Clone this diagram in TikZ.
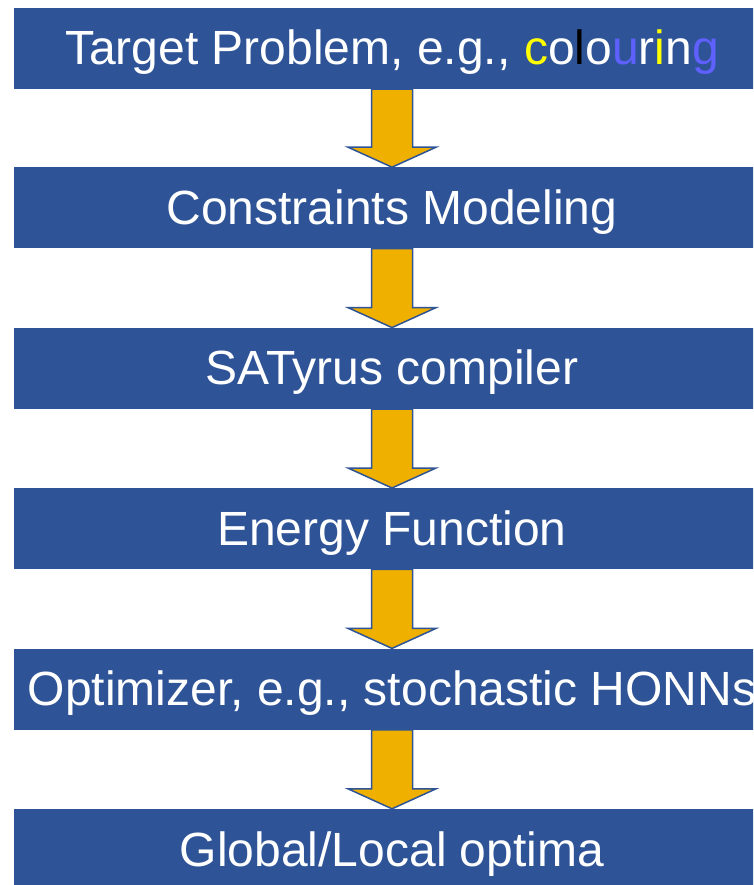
\documentclass[tikz,border=0pt]{standalone}
\usepackage{fontspec}
\setmainfont{Liberation Sans}
\usetikzlibrary{positioning,calc}
\definecolor{boxblue}{RGB}{46,84,151}
\definecolor{arrowgold}{RGB}{240,176,0}
\definecolor{letteryellow}{RGB}{255,255,0}
\definecolor{letterblue}{RGB}{96,96,255}
\tikzset{stage/.style={fill=boxblue,text=white,minimum width=756pt,minimum height=81pt,inner sep=0pt,
                       text height=40pt,text depth=7pt,font=\fontsize{48}{52}\selectfont},
         blockarrow/.style={fill=arrowgold,draw=boxblue,line width=1.5pt,line join=miter}
}

\begin{document}
\begin{tikzpicture}[x=1pt,y=1pt,yscale=-1]
\useasboundingbox (0,0) rectangle (753,885);
\clip (0,0) rectangle (753,885);

% stages
\node[stage] (target) at (392,48.5) {Target Problem, e.g., {\color{letteryellow}c}o{\color{black}l}o{\color{letterblue}u}r{\color{letteryellow}i}n{\color{letterblue}g}};
\node[stage,below=78pt of target] (model) {Constraints Modeling};
\node[stage,below=79pt of model] (compiler) {SATyrus compiler};
\node[stage,below=79pt of compiler] (energy) {Energy Function};
\node[stage,below=79pt of energy] (optim) {Optimizer, e.g., stochastic HONNs};
\node[stage,below=79pt of optim] (optima) {Global/Local optima};

% block arrows
\foreach \a/\b in {target/model,model/compiler,compiler/energy,energy/optim,optim/optima}
  \draw[blockarrow] ($(\a.south)+(-20.5,0)$) -- ($(\a.south)+(20.5,0)$)
    -- ($(\b.north)+(20.5,-20)$) -- ($(\b.north)+(44,-20)$) -- (\b.north)
    -- ($(\b.north)+(-44,-20)$) -- ($(\b.north)+(-20.5,-20)$) -- cycle;

\end{tikzpicture}
\end{document}
